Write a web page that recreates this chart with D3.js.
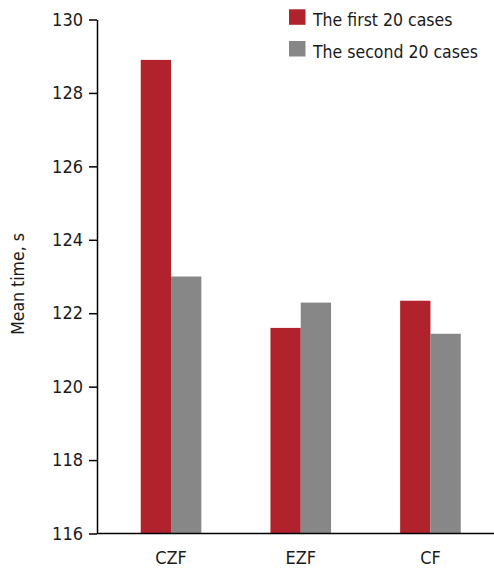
<!DOCTYPE html>
<html>
<head>
<meta charset="utf-8">
<script src="https://cdn.jsdelivr.net/npm/d3@7"></script>
<style>
  body { margin: 0; background: #fff; }
  svg text { font-family: "DejaVu Sans Condensed", "Liberation Sans Narrow", "Open Sans", sans-serif; fill: #1a1a1a; }
</style>
</head>
<body>
<svg id="chart"></svg>
<script>
const categories = ["CZF", "EZF", "CF"];
const seriesNames = ["The first 20 cases", "The second 20 cases"];
const firstCases = [128.9, 121.6, 122.34];
const secondCases = [123.0, 122.29, 121.44];
const yTicks = [116, 118, 120, 122, 124, 126, 128, 130];
const colors = ["#b0222c", "#878787"];

const width = 494, height = 569;
const margin = { top: 19.5, right: 0, bottom: 35.5, left: 97 };

const svg = d3.select("#chart").attr("width", width).attr("height", height);

// bands are centred on the categories, the axis line runs to the right edge
const x = d3.scaleBand()
    .domain(categories)
    .range([106.2, 495.3])
    .padding(0);

const y = d3.scaleLinear()
    .domain([116, 130])
    .range([height - margin.bottom, margin.top]);

const barW = 30.3;
const series = [firstCases, secondCases];

series.forEach((vals, si) => {
    svg.append("g")
        .selectAll("rect")
        .data(vals)
        .join("rect")
        .attr("x", (d, i) => x(categories[i]) + x.bandwidth() / 2 - barW + si * barW)
        .attr("y", d => y(d))
        .attr("width", barW)
        .attr("height", d => y(116) - y(d))
        .attr("fill", colors[si]);
});

// y axis
const yAxis = svg.append("g")
    .attr("transform", `translate(${margin.left},0)`)
    .call(d3.axisLeft(y).tickValues(yTicks).tickSize(8).tickPadding(6).tickSizeOuter(0));
yAxis.attr("font-family", null);
yAxis.select(".domain").attr("stroke", "#000").attr("stroke-width", 1.5);
yAxis.selectAll(".tick line").attr("stroke", "#000").attr("stroke-width", 1.5);
yAxis.selectAll(".tick text").attr("font-size", 18).attr("fill", "#1a1a1a");

// x axis
svg.append("line")
    .attr("x1", margin.left).attr("x2", width)
    .attr("y1", y(116)).attr("y2", y(116))
    .attr("stroke", "#000").attr("stroke-width", 1.5);

svg.append("g")
    .selectAll("text")
    .data(categories)
    .join("text")
    .attr("x", d => x(d) + x.bandwidth() / 2)
    .attr("y", 564)
    .attr("text-anchor", "middle")
    .attr("font-size", 18)
    .text(d => d);

// y label
svg.append("text")
    .attr("transform", `translate(24,${284}) rotate(-90)`)
    .attr("text-anchor", "middle")
    .attr("font-size", 17.5)
    .text("Mean time, s");

// legend
const legend = svg.append("g");
seriesNames.forEach((name, i) => {
    legend.append("rect")
        .attr("x", 289).attr("y", 9.3 + i * 31.7)
        .attr("width", 16.5).attr("height", 15.5)
        .attr("fill", colors[i]);
    legend.append("text")
        .attr("x", 313).attr("y", 26 + i * 31.7)
        .attr("font-size", 17.5)
        .text(name);
});
</script>
</body>
</html>
